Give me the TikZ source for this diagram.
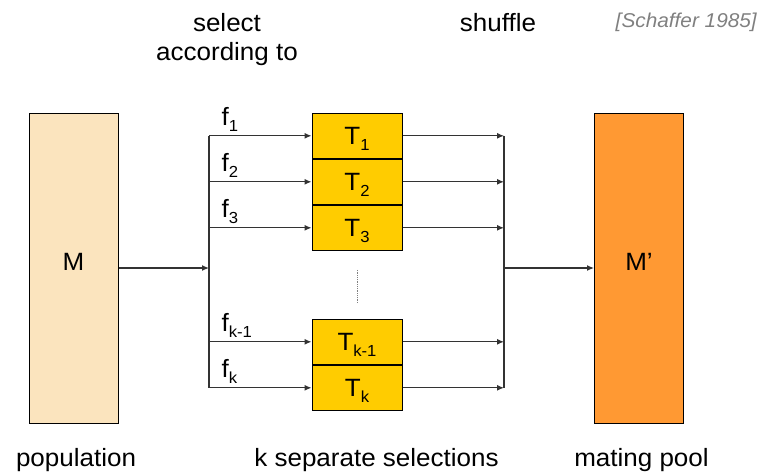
\documentclass[tikz,border=0pt]{standalone}
\usepackage{fontspec}
\setmainfont[FakeStretch=1.04]{Liberation Sans}
\usetikzlibrary{positioning,arrows.meta}
\definecolor{popcolor}{RGB}{251,228,190}
\definecolor{poolcolor}{RGB}{255,153,51}
\definecolor{selcolor}{RGB}{255,204,0}
\definecolor{refgray}{RGB}{128,128,128}
\newcommand{\idx}[1]{\raisebox{-6pt}{\fontsize{16}{16}\selectfont #1}}

\begin{document}
\begin{tikzpicture}[x=1pt,y=-1pt,
  every node/.style={font=\fontsize{25}{29}\selectfont},
  pool/.style={draw,line width=1pt,minimum width=89pt,minimum height=310pt,
    inner sep=0pt,text depth=12pt},
  tbox/.style={draw,line width=1pt,fill=selcolor,minimum width=90pt,
    minimum height=45pt,inner sep=0pt,text depth=0pt},
  flow/.style={draw=black!80,line width=1.2pt,-{Latex[length=7pt,width=6pt]}},
  rail/.style={draw=black!80,line width=1.2pt},
  flabel/.style={anchor=south west,inner sep=0pt,xshift=12pt,yshift=3.5pt}]

  \useasboundingbox (0,0) rectangle (779,475);

  % population and mating pool
  \node[pool,fill=popcolor] (M) at (73.5,268) {M};
  \node[pool,fill=poolcolor] (Mp) at (639,268) {M’};

  % the k selections
  \node[tbox] (T1) at (357,135.8) {T\idx{1}};
  \node[tbox,below=0pt of T1] (T2) {T\idx{2}};
  \node[tbox,below=0pt of T2] (T3) {T\idx{3}};
  \node[tbox] (Tkm) at (357,341.8) {T\idx{k-1}};
  \node[tbox,below=0pt of Tkm] (Tk) {T\idx{k}};

  \draw[densely dotted,gray,line width=0.8pt] ([yshift=-19pt]T3.south) -- ([yshift=15pt]Tkm.north);

  \coordinate (splitL) at (209,268);
  \coordinate (joinR) at (504,268);

  % left side: split into the selections
  \draw[flow] (M.east) -- (splitL);
  \draw[rail] (splitL |- T1.west) -- (splitL |- Tk.west);
  \draw[flow] (splitL |- T1.west) -- (T1.west) node[pos=0,flabel] {f\idx{1}};
  \draw[flow] (splitL |- T2.west) -- (T2.west) node[pos=0,flabel] {f\idx{2}};
  \draw[flow] (splitL |- T3.west) -- (T3.west) node[pos=0,flabel] {f\idx{3}};
  \draw[flow] (splitL |- Tkm.west) -- (Tkm.west) node[pos=0,flabel] {f\idx{k-1}};
  \draw[flow] (splitL |- Tk.west) -- (Tk.west) node[pos=0,flabel] {f\idx{k}};

  % right side: shuffle into the mating pool
  \draw[flow] (T1.east) -- (joinR |- T1.east);
  \draw[flow] (T2.east) -- (joinR |- T2.east);
  \draw[flow] (T3.east) -- (joinR |- T3.east);
  \draw[flow] (Tkm.east) -- (joinR |- Tkm.east);
  \draw[flow] (Tk.east) -- (joinR |- Tk.east);
  \draw[rail] (joinR |- T1.east) -- (joinR |- Tk.east);
  \draw[flow] (joinR) -- (Mp.west);

  % headings
  \node[anchor=north,align=center,inner sep=0pt] (selhead) at (227,13.1) {select\\according to};
  \node[anchor=base,inner sep=0pt] (shufhead) at (498,31) {shuffle};
  \node[anchor=base east,inner sep=0pt,text=refgray,
    font=\fontsize{20}{24}\selectfont\itshape] (cite) at (757,27) {[Schaffer 1985]};

  % captions
  \node[anchor=base,inner sep=0pt] (popcap) at (76,466.7) {population};
  \node[anchor=base,inner sep=0pt] (selcap) at (376.5,466.7) {k separate selections};
  \node[anchor=base,inner sep=0pt] (poolcap) at (641.5,466.7) {mating pool};
\end{tikzpicture}
\end{document}
